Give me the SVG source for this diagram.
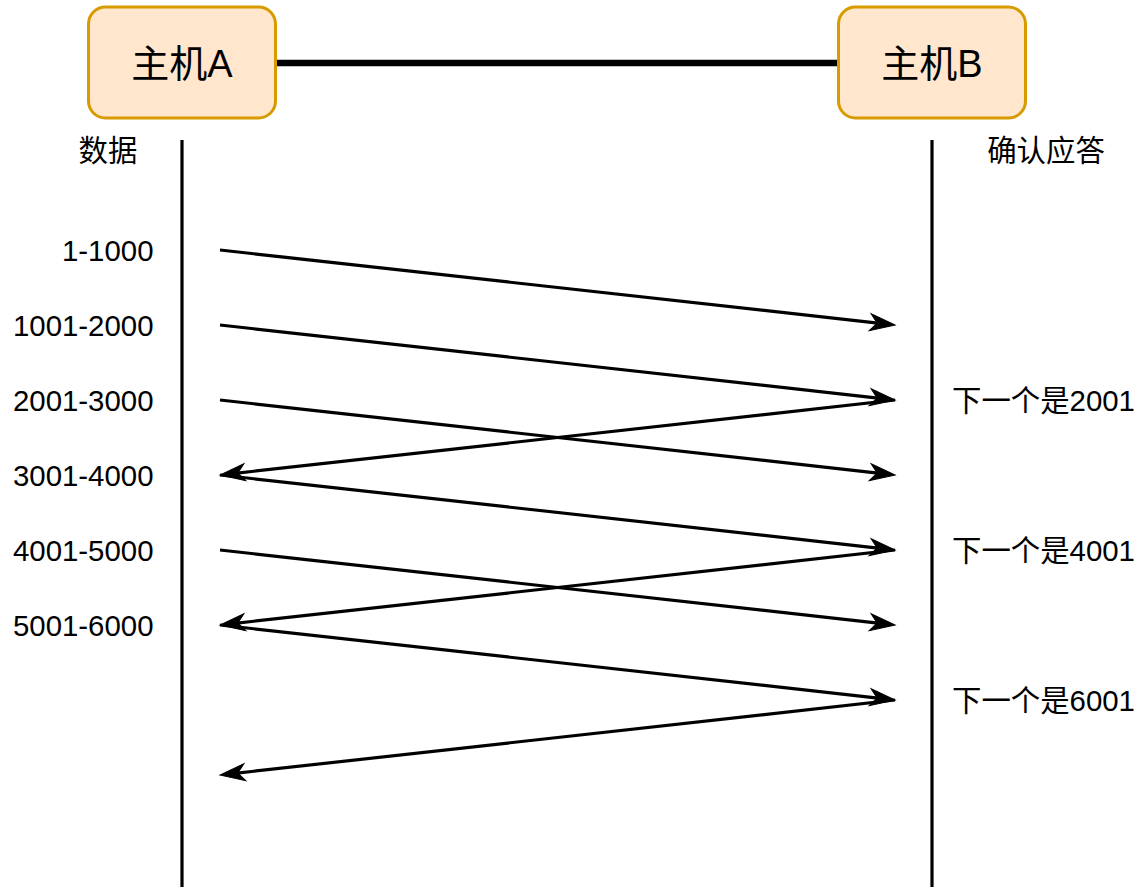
<svg xmlns="http://www.w3.org/2000/svg" width="1140" height="895" viewBox="0 0 1140 895">
<style>
.box{fill:#ffe6cc;stroke:#d79b00;stroke-width:3}
.bt{font-family:"Liberation Sans","Noto Sans CJK SC",sans-serif;font-size:38px;fill:#000;text-anchor:middle}
.t{font-family:"Liberation Sans","Noto Sans CJK SC",sans-serif;font-size:29.4px;fill:#000}
.ln{stroke:#000;stroke-width:3.2;fill:none}
.ar{stroke:#000;stroke-width:3.2;fill:none;marker-end:url(#ah)}
</style>
<defs>
<marker id="ah" markerUnits="userSpaceOnUse" orient="auto" refX="0" refY="0" markerWidth="40" markerHeight="40" viewBox="-20 -20 40 40" overflow="visible">
<path d="M15,0 L-10,-8.5 L-3,0 L-10,8.5 Z" fill="#000" stroke="#000" stroke-width="1"/>
</marker>
</defs>
<g id="connectors">
<line x1="276" y1="63" x2="838" y2="63" stroke="#000" stroke-width="6.4"/>
<line class="ln" x1="182" y1="140" x2="182" y2="887"/>
<line class="ln" x1="932" y1="140" x2="932" y2="887"/>
<line class="ar" x1="220" y1="250" x2="880.1" y2="323.34"/>
<line class="ar" x1="220" y1="325" x2="880.1" y2="398.34"/>
<line class="ar" x1="220" y1="400" x2="880.1" y2="473.34"/>
<line class="ar" x1="895" y1="400" x2="234.9" y2="473.34"/>
<line class="ar" x1="220" y1="475" x2="880.1" y2="548.34"/>
<line class="ar" x1="220" y1="550" x2="880.1" y2="623.34"/>
<line class="ar" x1="895" y1="550" x2="234.9" y2="623.34"/>
<line class="ar" x1="220" y1="625" x2="880.1" y2="698.34"/>
<line class="ar" x1="895" y1="700" x2="234.9" y2="773.34"/>
</g>
<g id="hostA">
<rect class="box" x="88.5" y="7" width="187" height="111" rx="17"/>
<text class="bt" x="182" y="76.5">主机A</text>
</g>
<g id="hostB">
<rect class="box" x="838.5" y="7" width="187" height="111" rx="17"/>
<text class="bt" x="932" y="76.5">主机B</text>
</g>
<g id="labels">
<text class="t" x="108" y="161" text-anchor="middle">数据</text>
<text class="t" x="1046" y="161" text-anchor="middle">确认应答</text>
<text class="t" x="153.5" y="260.5" text-anchor="end">1-1000</text>
<text class="t" x="153.5" y="335.5" text-anchor="end">1001-2000</text>
<text class="t" x="153.5" y="410.5" text-anchor="end">2001-3000</text>
<text class="t" x="153.5" y="485.5" text-anchor="end">3001-4000</text>
<text class="t" x="153.5" y="560.5" text-anchor="end">4001-5000</text>
<text class="t" x="153.5" y="635.5" text-anchor="end">5001-6000</text>
<text class="t" x="952" y="410.5">下一个是2001</text>
<text class="t" x="952" y="560.5">下一个是4001</text>
<text class="t" x="952" y="710.5">下一个是6001</text>
</g>
</svg>
